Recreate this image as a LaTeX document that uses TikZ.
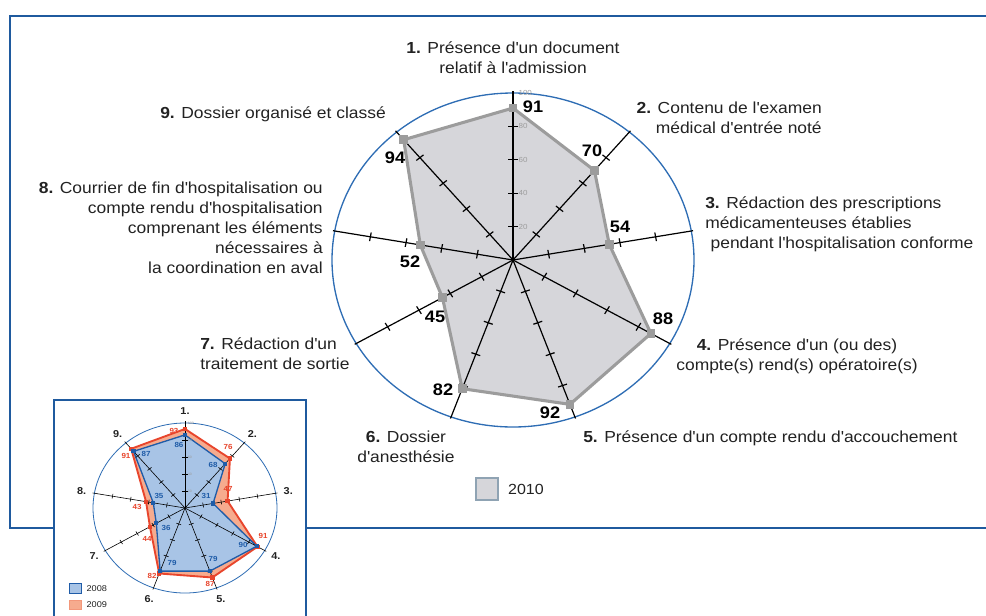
\documentclass[tikz,border=0pt]{standalone}
\usepackage{fontspec}
\setmainfont[FakeStretch=1.09]{Liberation Sans}
\usetikzlibrary{calc}
\usetikzlibrary{positioning}
\definecolor{frameblue}{HTML}{1F5A9E}
\definecolor{ringblue}{HTML}{2E6DB4}
\definecolor{grayfill}{HTML}{D6D6DA}
\definecolor{grayline}{HTML}{9C9C9C}
\definecolor{keyedge}{HTML}{8FA3B3}
\definecolor{bluefill}{HTML}{A8C4E6}
\definecolor{blueline}{HTML}{1F5CA8}
\definecolor{redfill}{HTML}{F6AB8E}
\definecolor{redline}{HTML}{E8452C}
\definecolor{labeltext}{HTML}{222222}
\newcommand{\ap}{\textquotesingle}
\newcommand{\RadarAxes}[3]{% tick half length, axis length, line width
    \foreach \i in {1,...,9}{
        \pgfmathsetmacro{\ang}{130-40*\i}
        \draw[line width=#3] (0,0) -- (\ang:#2);
        \foreach \r in {20,40,60,80}
            \draw[line width=#3] ($(\ang:\r)+(\ang+90:#1)$) -- ($(\ang:\r)+(\ang-90:#1)$);
    }
}
\newcommand{\TickLabels}[2]{% font size, shift
    \foreach \r in {20,40,60,80,100}
        \node[anchor=west,inner sep=0pt,text=grayline,font=\fontsize{#1}{#1}\selectfont,xshift=#2] (t\r) at (90:\r) {\r};
}

\begin{document}
\begin{tikzpicture}[x=0.75pt,y=-0.75pt,
    frame/.style={draw=frameblue,line width=2.2pt},
    ring/.style={draw=ringblue,line width=1pt},
    lbl/.style={inner sep=0pt,text=labeltext,font=\fontsize{12}{15}\selectfont},
    val/.style={inner sep=0pt,font=\fontsize{12.5}{15}\selectfont\bfseries},
    mark2010/.style={rectangle,fill=grayline,minimum size=6.5pt,inner sep=0pt},
    marksmall/.style={rectangle,minimum size=3.2pt,inner sep=0pt},
    sval/.style={inner sep=0pt,font=\fontsize{5.5}{6}\selectfont\bfseries},
    snum/.style={inner sep=0pt,font=\fontsize{7.5}{8}\selectfont\bfseries,text=labeltext}]
\useasboundingbox (0,0) rectangle (986,615);

% main frame, open to the right
\draw[frame] (1000,16) -- (10,16) -- (10,528) -- (1000,528);

% main chart
\begin{scope}[shift={(513,260)},x=1.3575pt,y=1.2525pt]
    \draw[ring] (0,0) ellipse[x radius=135.75pt,y radius=125.25pt];
    \fill[grayfill] (90:91) -- (50:70) -- (10:54) -- (-30:88) -- (-70:92) -- (-110:82) -- (-150:45) -- (170:52) -- (130:94) -- cycle;
    \RadarAxes{2.6}{101}{0.9pt}
    \draw[grayline,line width=2.3pt,line join=round] (90:91) -- (50:70) -- (10:54) -- (-30:88) -- (-70:92) -- (-110:82) -- (-150:45) -- (170:52) -- (130:94) -- cycle;
    \foreach \v [count=\i] in {91,70,54,88,92,82,45,52,94}
        \node[mark2010] (m\i) at ({130-40*\i}:\v) {};
    \TickLabels{5.5}{4pt}
\end{scope}

% values 2010
\node[val] (v1) at (533,107) {91};
\node[val] (v2) at (592,151) {70};
\node[val] (v3) at (620,227) {54};
\node[val] (v4) at (663,319) {88};
\node[val] (v5) at (550,413) {92};
\node[val] (v6) at (443,390) {82};
\node[val] (v7) at (435,317) {45};
\node[val] (v8) at (410,262) {52};
\node[val] (v9) at (395,158) {94};

% criteria
\node[lbl,align=center] (c1) at (513,58) {\textbf{1.} Présence d\ap un document\\relatif à l\ap admission};
\node[lbl,align=right,anchor=east] (c2) at (822,118) {\textbf{2.} Contenu de l\ap examen\\médical d\ap entrée noté};
\node[lbl,align=left,anchor=west] (c3) at (705,224) {\textbf{3.} Rédaction des prescriptions\\médicamenteuses établies\\\hspace*{4pt}pendant l\ap hospitalisation conforme};
\node[lbl,align=center] (c4) at (797,356) {\textbf{4.} Présence d\ap un (ou des)\\compte(s) rend(s) opératoire(s)};
\node[lbl,anchor=west] (c5) at (583,438) {\textbf{5.} Présence d\ap un compte rendu d\ap accouchement};
\node[lbl,align=center] (c6) at (406,447) {\textbf{6.} Dossier\\d\ap anesthésie};
\node[lbl,align=left,anchor=west] (c7) at (200,354) {\textbf{7.} Rédaction d\ap un\\traitement de sortie};
\node[lbl,align=right,anchor=east] (c8) at (323,228) {\textbf{8.} Courrier de fin d\ap hospitalisation ou\\compte rendu d\ap hospitalisation\\comprenant les éléments\\nécessaires à\\la coordination en aval};
\node[lbl,anchor=west] (c9) at (160,114) {\textbf{9.} Dossier organisé et classé};

% legend 2010
\node[draw=keyedge,fill=grayfill,line width=1.3pt,minimum size=16pt,inner sep=0pt] (key2010) at (487,489) {};
\node[lbl,font=\fontsize{11}{13}\selectfont,right=7pt of key2010] (txt2010) {2010};

% inset with 2008 and 2009
\draw[frame,fill=white] (54,400) rectangle (306,630);
\begin{scope}[shift={(185,508)},x=0.69pt,y=0.6375pt]
    \draw[ring,line width=0.6pt] (0,0) ellipse[x radius=69pt,y radius=63.75pt];
    \filldraw[fill=redfill,draw=redline,line width=1.4pt,line join=round] (90:93) -- (50:76) -- (10:47) -- (-30:91) -- (-70:87) -- (-110:82) -- (-150:44) -- (170:43) -- (130:91) -- cycle;
    \filldraw[fill=bluefill,draw=blueline,line width=1pt,line join=round] (90:86) -- (50:68) -- (10:31) -- (-30:90) -- (-70:79) -- (-110:79) -- (-150:36) -- (170:35) -- (130:87) -- cycle;
    \RadarAxes{2.8}{102}{0.45pt}
    \foreach \v [count=\i] in {93,76,47,91,87,82,44,43,91}
        \node[marksmall,fill=redline] (r\i) at ({130-40*\i}:\v) {};
    \foreach \v [count=\i] in {86,68,31,90,79,79,36,35,87}
        \node[marksmall,fill=blueline] (b\i) at ({130-40*\i}:\v) {};
    \TickLabels{2.5}{2pt}
    \foreach \i in {1,...,9}
        \node[snum] (n\i) at ({130-40*\i}:114) {\i.};
\end{scope}

% values 2008
\node[sval,text=blueline] (s1) at (179,445) {86};
\node[sval,text=blueline] (s2) at (213,465) {68};
\node[sval,text=blueline] (s3) at (206,496) {31};
\node[sval,text=blueline] (s4) at (243,545) {90};
\node[sval,text=blueline] (s5) at (213,559) {79};
\node[sval,text=blueline] (s6) at (172,563) {79};
\node[sval,text=blueline] (s7) at (166,528) {36};
\node[sval,text=blueline] (s8) at (159,496) {35};
\node[sval,text=blueline] (s9) at (146,454) {87};
% values 2009
\node[sval,text=redline] (e1) at (174,431) {93};
\node[sval,text=redline] (e2) at (228,447) {76};
\node[sval,text=redline] (e3) at (228,489) {47};
\node[sval,text=redline] (e4) at (263,536) {91};
\node[sval,text=redline] (e5) at (210,584) {87};
\node[sval,text=redline] (e6) at (152,576) {82};
\node[sval,text=redline] (e7) at (147,539) {44};
\node[sval,text=redline] (e8) at (137,507) {43};
\node[sval,text=redline] (e9) at (126,456) {91};

% legend 2008 / 2009
\node[draw=blueline,fill=bluefill,line width=0.8pt,minimum width=9.5pt,minimum height=7pt,inner sep=0pt] (key2008) at (75.5,588.5) {};
\node[inner sep=0pt,text=labeltext,font=\fontsize{6.3}{7}\selectfont,right=3pt of key2008] (txt2008) {2008};
\node[draw=redfill!80!redline,fill=redfill,line width=0.8pt,minimum width=9.5pt,minimum height=7pt,inner sep=0pt] (key2009) at (75.5,605) {};
\node[inner sep=0pt,text=labeltext,font=\fontsize{6.3}{7}\selectfont,right=3pt of key2009] (txt2009) {2009};
\end{tikzpicture}
\end{document}
